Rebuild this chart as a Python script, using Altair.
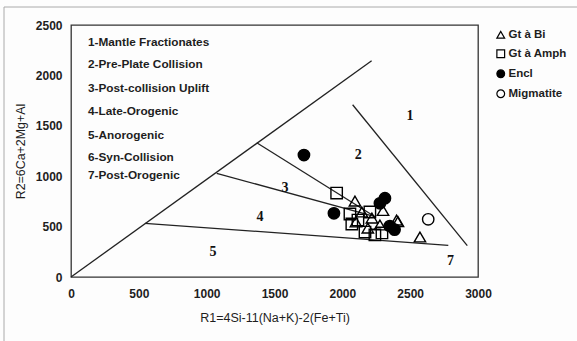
import altair as alt
import pandas as pd

# --- sample analyses (R1, R2) by group ---
bi_r1 = [2093, 2144, 2218, 2277, 2188, 2300, 2400, 2100, 2572, 2410]
bi_r2 = [754, 645, 585, 516, 486, 660, 565, 546, 397, 549]

amph_r1 = [1958, 2056, 2115, 2167, 2240, 2070, 2203, 2292]
amph_r2 = [833, 625, 565, 446, 417, 526, 645, 437]

encl_r1 = [1717, 1938, 2277, 2314, 2350, 2385]
encl_r2 = [1210, 632, 731, 781, 505, 470]

mig_r1 = [2633]
mig_r2 = [572]

groups = ["Gt à Bi", "Gt à Amph", "Encl", "Migmatite"]
group_shapes = ["triangle-up", "square", "circle", "circle"]
group_fills = ["transparent", "transparent", "black", "transparent"]
group_strokes = ["black", "black", "black", "black"]

# --- field boundaries (R1, R2 start -> R1, R2 end) ---
seg_x1 = [0, 2076, 1369, 1074, 545]
seg_y1 = [0, 1709, 1332, 1029, 533]
seg_x2 = [2216, 2921, 2241, 2241, 2781]
seg_y2 = [2146, 311, 598, 598, 314]

# --- field numbers ---
field_ids = ["1", "2", "3", "4", "5", "7"]
field_r1 = [2498, 2117, 1577, 1393, 1046, 2798]
field_r2 = [1594, 1207, 880, 598, 251, 159]

# --- key to the fields ---
field_names = [
    "1-Mantle Fractionates",
    "2-Pre-Plate Collision",
    "3-Post-collision Uplift",
    "4-Late-Orogenic",
    "5-Anorogenic",
    "6-Syn-Collision",
    "7-Post-Orogenic",
]
field_name_r2 = [2336, 2112, 1874, 1647, 1409, 1194, 1012]
field_name_r1 = 125

x_ticks = [0, 500, 1000, 1500, 2000, 2500, 3000]
y_ticks = [0, 500, 1000, 1500, 2000, 2500]

points = pd.DataFrame(
    {
        "R1": bi_r1 + amph_r1 + mig_r1 + encl_r1,
        "R2": bi_r2 + amph_r2 + mig_r2 + encl_r2,
        "group": ["Gt à Bi"] * len(bi_r1)
        + ["Gt à Amph"] * len(amph_r1)
        + ["Migmatite"] * len(mig_r1)
        + ["Encl"] * len(encl_r1),
    }
)
points["order"] = range(len(points))

segments = pd.DataFrame({"x1": seg_x1, "y1": seg_y1, "x2": seg_x2, "y2": seg_y2})
fields = pd.DataFrame({"label": field_ids, "R1": field_r1, "R2": field_r2})
names = pd.DataFrame(
    {"label": field_names, "R1": [field_name_r1] * len(field_names), "R2": field_name_r2}
)

FONT = "Liberation Sans"
INK = "#1e1e1e"

xscale = alt.Scale(domain=[0, 3000], nice=False)
yscale = alt.Scale(domain=[0, 2500], nice=False)

x_axis = alt.Axis(
    values=x_ticks,
    format="d",
    title="R1=4Si-11(Na+K)-2(Fe+Ti)",
    grid=False,
    ticks=False,
    domain=False,
    labelFont=FONT,
    labelFontSize=12,
    labelFontWeight="bold",
    labelColor=INK,
    labelPadding=11,
    labelFlush=False,
    titleFont=FONT,
    titleFontSize=12.5,
    titleFontWeight="normal",
    titleColor=INK,
    titlePadding=12,
)
y_axis = alt.Axis(
    values=y_ticks,
    format="d",
    title="R2=6Ca+2Mg+Al",
    grid=False,
    ticks=False,
    domain=False,
    labelFont=FONT,
    labelFontSize=12,
    labelFontWeight="bold",
    labelColor=INK,
    labelPadding=9,
    labelFlush=False,
    titleFont=FONT,
    titleFontSize=12.4,
    titleFontWeight="normal",
    titleColor=INK,
    titleX=-51,
    titleY=126,
    titleAngle=-90,
    titleBaseline="middle",
    titleAlign="center",
)

lines = (
    alt.Chart(segments)
    .mark_rule(color="#222", strokeWidth=1.3)
    .encode(
        x=alt.X("x1:Q", scale=xscale, axis=x_axis),
        y=alt.Y("y1:Q", scale=yscale, axis=y_axis),
        x2="x2:Q",
        y2="y2:Q",
    )
)

legend = alt.Legend(
    title=None,
    orient="none",
    legendX=424,
    legendY=4,
    labelFont=FONT,
    labelFontSize=11.5,
    labelFontWeight="bold",
    labelColor=INK,
    labelOffset=2,
    symbolSize=60,
    symbolStrokeWidth=1.2,
    rowPadding=6,
)

symbols = (
    alt.Chart(points)
    .mark_point(size=130, strokeWidth=1.4, opacity=1, filled=False)
    .encode(
        x=alt.X("R1:Q", scale=xscale),
        y=alt.Y("R2:Q", scale=yscale),
        shape=alt.Shape("group:N", scale=alt.Scale(domain=groups, range=group_shapes), legend=legend),
        fill=alt.Fill("group:N", scale=alt.Scale(domain=groups, range=group_fills), legend=legend),
        stroke=alt.Stroke("group:N", scale=alt.Scale(domain=groups, range=group_strokes), legend=legend),
        order=alt.Order("order:Q"),
    )
)

field_labels = (
    alt.Chart(fields)
    .mark_text(font="Liberation Serif", fontSize=14, fontWeight="bold", color="#111")
    .encode(x=alt.X("R1:Q", scale=xscale), y=alt.Y("R2:Q", scale=yscale), text="label:N")
)

key_text = (
    alt.Chart(names)
    .mark_text(font=FONT, fontSize=11.8, fontWeight="bold", color=INK, align="left", baseline="middle")
    .encode(x=alt.X("R1:Q", scale=xscale), y=alt.Y("R2:Q", scale=yscale), text="label:N")
)

# light outer frame of the figure (top and left edges)
frame_top = alt.Chart(pd.DataFrame({"k": [0]})).mark_rule(color="#aaa", strokeWidth=1).encode(
    x=alt.value(-67), x2=alt.value(506), y=alt.value(-18)
)
frame_left = alt.Chart(pd.DataFrame({"k": [0]})).mark_rule(color="#aaa", strokeWidth=1).encode(
    x=alt.value(-67), y=alt.value(-18), y2=alt.value(316)
)

chart = (
    alt.layer(frame_top, frame_left, lines, field_labels, key_text, symbols)
    .properties(
        width=407,
        height=252,
        autosize=alt.AutoSizeParams(type="none"),
        padding={"left": 71, "top": 25, "right": 99, "bottom": 64},
        background="#fdfdfd",
    )
    .configure_view(stroke="#333", strokeWidth=1.3, clip=False)
)

chart.save("out.html", embed_options={"renderer": "svg", "actions": False})
